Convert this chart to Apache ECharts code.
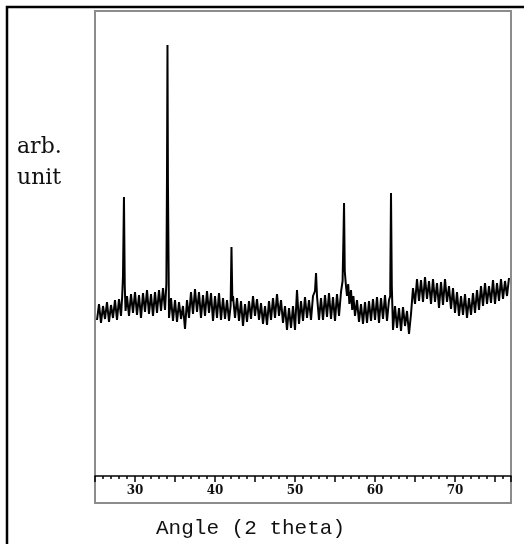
<!DOCTYPE html>
<html lang="en" style="height: 100%">
<head>
  <meta charset="utf-8">
</head>
<body style="height: 100%; margin: 0; background: #fff">
  <div id="container" style="width: 524px; height: 544px"></div>

  <script type="text/javascript" src="https://cdn.jsdelivr.net/npm/echarts@6/dist/echarts.min.js"></script>

  <script type="text/javascript">
    // x axis ticks / labels
    var xMin = 25, xMax = 77, xStep = 5;
    var labelEvery = 10;

    // scan: [2 theta, intensity]
    var scanLow = [
      [25.25,156],[25.5,172],[25.75,153],[26.0,170],[26.25,157],[26.5,174],[26.75,154],[27.0,171],
      [27.25,158],[27.5,176],[27.75,156],[28.0,177],[28.25,160],[28.4,180],
      [28.5,200],[28.62,279],[28.72,190],[28.82,165],
      [29.0,180],[29.25,160],[29.5,182],[29.75,163],[30.0,184],[30.25,161],[30.5,181],[30.75,158],
      [31.0,183],[31.25,164],[31.5,186],[31.75,162],[32.0,182],[32.25,160],[32.5,184],[32.75,163],
      [33.0,186],[33.25,165],[33.5,188],[33.75,166],[33.92,192],
      [34.0,300],[34.06,431],[34.12,290],[34.25,158]
    ];
    var scanMid = [
      [34.5,178],[34.75,155],[35.0,176],[35.25,154],[35.5,174],[35.75,157],[36.0,170],[36.25,147],
      [36.5,176],[36.75,158],[37.0,184],[37.25,162],[37.5,187],[37.75,164],[38.0,184],[38.25,158],
      [38.5,181],[38.75,160],[39.0,185],[39.25,163],[39.5,183],[39.75,155],[40.0,180],[40.25,158],
      [40.5,183],[40.75,156],[41.0,178],[41.25,157],[41.5,176],[41.75,155],
      [41.95,170],[42.06,229],[42.17,175],
      [42.25,180],[42.5,158],[42.75,178],[43.0,155],[43.25,175],[43.5,150],[43.75,172],[44.0,154],
      [44.25,175],[44.5,157],[44.75,180],[45.0,160],[45.25,177],[45.5,156],[45.75,173],[46.0,152],
      [46.25,170],[46.5,151],[46.75,175],[47.0,156],[47.25,178],[47.5,158],[47.75,182],[48.0,160],
      [48.25,176],[48.5,153],[48.75,170],[49.0,146],[49.25,168],[49.5,148],[49.75,170],[50.0,146],
      [50.25,186],[50.5,152],[50.75,175],[51.0,155],[51.25,179],[51.5,158],
      [51.75,176],[52.0,156],[52.25,180],[52.5,185],[52.63,203],[52.75,180],[53.0,156]
    ];
    var scanHigh = [
      [53.25,178],[53.5,156],[53.75,181],[54.0,159],[54.25,183],[54.5,157],[54.75,179],[55.0,155],
      [55.25,182],[55.5,160],[55.75,184],[55.95,195],
      [56.06,240],[56.13,273],[56.22,205],[56.35,192],[56.5,180],[56.65,192],[56.8,172],[57.0,186],
      [57.15,166],[57.3,180],[57.5,160],[57.75,176],[58.0,154],[58.25,172],[58.5,152],
      [58.75,174],[59.0,153],[59.25,175],[59.5,155],[59.75,177],[60.0,156],[60.25,179],[60.5,153],
      [60.75,178],[61.0,157],[61.25,181],[61.5,155],[61.75,176],
      [61.9,180],[62.0,283],[62.1,190],[62.25,146],
      [62.5,170],[62.75,148],[63.0,168],[63.25,145],[63.5,169],[63.75,150],[64.0,165],[64.25,142],[64.5,162],
      [64.75,188],[65.0,172],[65.25,197],[65.5,175],[65.75,196],[66.0,174],[66.25,199],[66.5,177],
      [66.75,195],[67.0,172],[67.25,197],[67.5,174],[67.75,193],[68.0,168],[68.25,194],[68.5,171],
      [68.75,197],[69.0,174],[69.25,190],[69.5,167],[69.75,188],
      [70.0,163],[70.25,184],[70.5,160],[70.75,180],[71.0,161],[71.25,182],[71.5,158],[71.75,178],
      [72.0,161],[72.25,183],[72.5,163],
      [72.75,186],[73.0,166],[73.25,190],[73.5,170],[73.75,193],[74.0,172],[74.25,190],[74.5,173],
      [74.75,196],[75.0,172],[75.25,193],[75.5,175],[75.75,197],[76.0,177],[76.25,195],[76.5,180],[76.75,198]
    ];

    var yTitle = ['arb.', 'unit'];
    var xTitle = 'Angle (2 theta)';

    var dom = document.getElementById('container');
    var myChart = echarts.init(dom, null, { renderer: 'canvas' });

    var option = {
      animation: false,
      backgroundColor: '#fff',
      grid: { left: 95, right: 13, top: 12, bottom: 68 },
      graphic: [
        // outer black frame (left + top)
        { type: 'polyline', z: 0, silent: true,
          shape: { points: [[7, 544], [7, 7], [524, 7]] },
          style: { stroke: '#000', lineWidth: 2.5, fill: null } },
        // grey plot box
        { type: 'rect', z: 0, silent: true,
          shape: { x: 95, y: 11, width: 416, height: 492 },
          style: { stroke: '#8c8c8c', lineWidth: 2, fill: null } },
        { type: 'text', left: 17, top: 132,
          style: { text: yTitle.join('\n'), font: '22px "DejaVu Serif"', lineHeight: 31, fill: '#111' } },
        { type: 'text', left: 156, top: 518,
          style: { text: xTitle, font: '21px "Liberation Mono"', fill: '#111' } }
      ],
      xAxis: {
        type: 'value',
        min: xMin,
        max: xMax,
        interval: xStep,
        axisLine: { lineStyle: { color: '#000', width: 1.5 } },
        axisTick: { length: 6, lineStyle: { color: '#000', width: 1.5 } },
        minorTick: { show: true, splitNumber: 5, length: 3, lineStyle: { color: '#000', width: 1.5 } },
        splitLine: { show: false },
        axisLabel: {
          margin: 9,
          color: '#111',
          fontFamily: 'DejaVu Serif',
          fontWeight: 'bold',
          fontSize: 12,
          formatter: function (v) { return v % labelEvery === 0 ? String(v) : ''; }
        }
      },
      yAxis: { type: 'value', min: 0, max: 464, show: false },
      series: [
        {
          type: 'line',
          showSymbol: false,
          data: scanLow.concat(scanMid, scanHigh),
          lineStyle: { color: '#000', width: 2 }
        }
      ]
    };

    myChart.setOption(option);
    window.addEventListener('resize', myChart.resize);
  </script>
</body>
</html>
